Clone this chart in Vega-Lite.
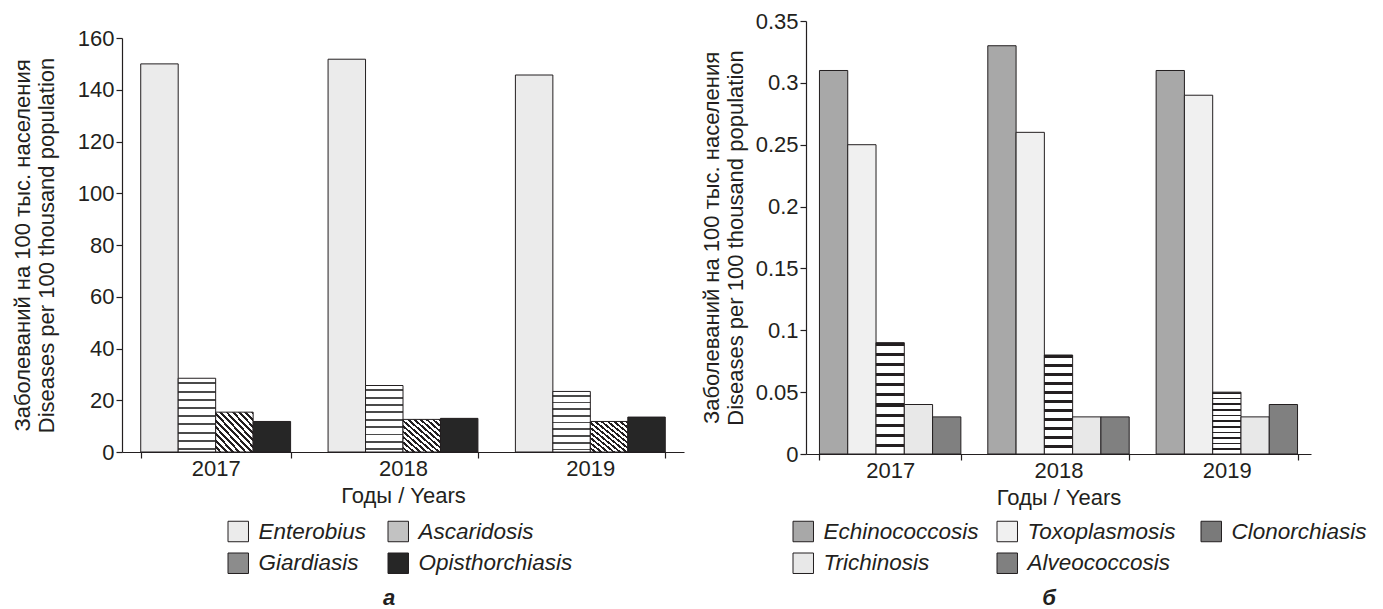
{
  "$schema": "https://vega.github.io/schema/vega-lite/v6.json",
  "background": "white",
  "padding": {"left": 11, "top": 10, "right": 4, "bottom": 0},
  "spacing": 16,
  "config": {
    "font": "Liberation Sans",
    "view": {"stroke": null},
    "axis": {
      "grid": false,
      "domainColor": "#231f20",
      "tickColor": "#231f20",
      "labelColor": "#231f20",
      "titleColor": "#231f20",
      "labelFontSize": 22,
      "titleFontSize": 22,
      "titleFontWeight": "normal",
      "tickSize": 6,
      "domainWidth": 1.2,
      "tickWidth": 1.2
    },
    "legend": {
      "labelFontSize": 22.5,
      "labelFontStyle": "italic",
      "labelColor": "#231f20",
      "titleColor": "#231f20",
      "symbolType": "square",
      "symbolSize": 420,
      "symbolStrokeColor": "#231f20",
      "symbolStrokeWidth": 1,
      "labelOffset": 9,
      "rowPadding": 7,
      "titleOrient": "bottom",
      "titleAnchor": "middle",
      "titleFontSize": 22,
      "titleFontStyle": "italic",
      "titleFontWeight": "bold",
      "titlePadding": 13
    }
  },
  "hconcat": [
    {
      "spacing": 0,
      "vconcat": [
        {
          "width": 562,
          "height": 2,
          "data": {"values": [{"k": 1}]},
          "mark": {"type": "text"},
          "encoding": {"text": {"value": ""}},
          "view": {"fill": "white", "stroke": null}
        },
        {
          "width": 562,
          "height": 414,
          "data": {"values": [
            {"year": "2017", "disease": "Enterobius", "value": 150.0},
            {"year": "2017", "disease": "Ascaridosis", "value": 28.5},
            {"year": "2017", "disease": "Giardiasis", "value": 15.4},
            {"year": "2017", "disease": "Opisthorchiasis", "value": 11.8},
            {"year": "2018", "disease": "Enterobius", "value": 151.8},
            {"year": "2018", "disease": "Ascaridosis", "value": 25.7},
            {"year": "2018", "disease": "Giardiasis", "value": 12.6},
            {"year": "2018", "disease": "Opisthorchiasis", "value": 13.0},
            {"year": "2019", "disease": "Enterobius", "value": 145.7},
            {"year": "2019", "disease": "Ascaridosis", "value": 23.4},
            {"year": "2019", "disease": "Giardiasis", "value": 11.8},
            {"year": "2019", "disease": "Opisthorchiasis", "value": 13.5}
          ]},
          "mark": {"type": "bar", "stroke": "#231f20", "strokeWidth": 1},
          "encoding": {
            "x": {"field": "year", "type": "nominal",
              "scale": {"paddingInner": 0.2, "paddingOuter": 0.1},
              "axis": {"title": "Годы / Years", "labelAngle": 0, "tickBand": "extent", "labelPadding": 0, "titlePadding": 6}},
            "xOffset": {"field": "disease", "type": "nominal", "sort": ["Enterobius", "Ascaridosis", "Giardiasis", "Opisthorchiasis"],
              "scale": {"paddingInner": 0, "paddingOuter": 0}},
            "y": {"field": "value", "type": "quantitative",
              "scale": {"domain": [0, 160]},
              "axis": {"values": [0, 20, 40, 60, 80, 100, 120, 140, 160],
                "title": ["Заболеваний на 100 тыс. населения", "Diseases per 100 thousand population"], "titlePadding": 19}},
            "fill": {"field": "disease", "type": "nominal",
              "condition": [
                {"test": "datum.disease === 'Ascaridosis'", "value": {"gradient": "linear", "x1": 0, "y1": 0, "x2": 0, "y2": 1, "stops": [
                    {"offset": 0, "color": "#ffffff"},
                    {"offset": 0.0556, "color": "#ffffff"}, {"offset": 0.0556, "color": "#4a4a4a"}, {"offset": 0.0844, "color": "#4a4a4a"}, {"offset": 0.0844, "color": "#ffffff"},
                    {"offset": 0.1667, "color": "#ffffff"}, {"offset": 0.1667, "color": "#4a4a4a"}, {"offset": 0.1956, "color": "#4a4a4a"}, {"offset": 0.1956, "color": "#ffffff"},
                    {"offset": 0.2778, "color": "#ffffff"}, {"offset": 0.2778, "color": "#4a4a4a"}, {"offset": 0.3067, "color": "#4a4a4a"}, {"offset": 0.3067, "color": "#ffffff"},
                    {"offset": 0.3889, "color": "#ffffff"}, {"offset": 0.3889, "color": "#4a4a4a"}, {"offset": 0.4178, "color": "#4a4a4a"}, {"offset": 0.4178, "color": "#ffffff"},
                    {"offset": 0.5, "color": "#ffffff"}, {"offset": 0.5, "color": "#4a4a4a"}, {"offset": 0.5289, "color": "#4a4a4a"}, {"offset": 0.5289, "color": "#ffffff"},
                    {"offset": 0.6111, "color": "#ffffff"}, {"offset": 0.6111, "color": "#4a4a4a"}, {"offset": 0.64, "color": "#4a4a4a"}, {"offset": 0.64, "color": "#ffffff"},
                    {"offset": 0.7222, "color": "#ffffff"}, {"offset": 0.7222, "color": "#4a4a4a"}, {"offset": 0.7511, "color": "#4a4a4a"}, {"offset": 0.7511, "color": "#ffffff"},
                    {"offset": 0.8333, "color": "#ffffff"}, {"offset": 0.8333, "color": "#4a4a4a"}, {"offset": 0.8622, "color": "#4a4a4a"}, {"offset": 0.8622, "color": "#ffffff"},
                    {"offset": 0.9444, "color": "#ffffff"}, {"offset": 0.9444, "color": "#4a4a4a"}, {"offset": 0.9733, "color": "#4a4a4a"}, {"offset": 0.9733, "color": "#ffffff"},
                    {"offset": 1, "color": "#ffffff"}
                  ]}},
                {"test": "datum.disease === 'Giardiasis'", "value": {"gradient": "linear", "x1": 0, "y1": 1, "x2": 1, "y2": 0, "stops": [
                    {"offset": 0, "color": "#ffffff"},
                    {"offset": 0.0458, "color": "#ffffff"}, {"offset": 0.0458, "color": "#231f20"}, {"offset": 0.0833, "color": "#231f20"}, {"offset": 0.0833, "color": "#ffffff"},
                    {"offset": 0.1292, "color": "#ffffff"}, {"offset": 0.1292, "color": "#231f20"}, {"offset": 0.1667, "color": "#231f20"}, {"offset": 0.1667, "color": "#ffffff"},
                    {"offset": 0.2125, "color": "#ffffff"}, {"offset": 0.2125, "color": "#231f20"}, {"offset": 0.25, "color": "#231f20"}, {"offset": 0.25, "color": "#ffffff"},
                    {"offset": 0.2958, "color": "#ffffff"}, {"offset": 0.2958, "color": "#231f20"}, {"offset": 0.3333, "color": "#231f20"}, {"offset": 0.3333, "color": "#ffffff"},
                    {"offset": 0.3792, "color": "#ffffff"}, {"offset": 0.3792, "color": "#231f20"}, {"offset": 0.4167, "color": "#231f20"}, {"offset": 0.4167, "color": "#ffffff"},
                    {"offset": 0.4625, "color": "#ffffff"}, {"offset": 0.4625, "color": "#231f20"}, {"offset": 0.5, "color": "#231f20"}, {"offset": 0.5, "color": "#ffffff"},
                    {"offset": 0.5458, "color": "#ffffff"}, {"offset": 0.5458, "color": "#231f20"}, {"offset": 0.5833, "color": "#231f20"}, {"offset": 0.5833, "color": "#ffffff"},
                    {"offset": 0.6292, "color": "#ffffff"}, {"offset": 0.6292, "color": "#231f20"}, {"offset": 0.6667, "color": "#231f20"}, {"offset": 0.6667, "color": "#ffffff"},
                    {"offset": 0.7125, "color": "#ffffff"}, {"offset": 0.7125, "color": "#231f20"}, {"offset": 0.75, "color": "#231f20"}, {"offset": 0.75, "color": "#ffffff"},
                    {"offset": 0.7958, "color": "#ffffff"}, {"offset": 0.7958, "color": "#231f20"}, {"offset": 0.8333, "color": "#231f20"}, {"offset": 0.8333, "color": "#ffffff"},
                    {"offset": 0.8792, "color": "#ffffff"}, {"offset": 0.8792, "color": "#231f20"}, {"offset": 0.9167, "color": "#231f20"}, {"offset": 0.9167, "color": "#ffffff"},
                    {"offset": 0.9625, "color": "#ffffff"}, {"offset": 0.9625, "color": "#231f20"}, {"offset": 1, "color": "#231f20"}
                  ]}}
              ],
              "scale": {"domain": ["Enterobius", "Ascaridosis", "Giardiasis", "Opisthorchiasis"],
                "range": ["#ebebeb", "#c2c2c2", "#8c8c8c", "#262626"]},
              "legend": {"title": "а", "orient": "none", "legendX": 105, "legendY": 499, "direction": "horizontal", "columns": 2, "gridAlign": "each", "columnPadding": 19,
                "encode": {"title": {"update": {"dx": {"value": -11}}}}}}
          }
        }
      ]
    },
    {
      "width": 505,
      "height": 433,
      "data": {"values": [
        {"year": "2017", "disease": "Echinococcosis", "value": 0.31},
        {"year": "2017", "disease": "Toxoplasmosis", "value": 0.25},
        {"year": "2017", "disease": "Clonorchiasis", "value": 0.09},
        {"year": "2017", "disease": "Trichinosis", "value": 0.04},
        {"year": "2017", "disease": "Alveococcosis", "value": 0.03},
        {"year": "2018", "disease": "Echinococcosis", "value": 0.33},
        {"year": "2018", "disease": "Toxoplasmosis", "value": 0.26},
        {"year": "2018", "disease": "Clonorchiasis", "value": 0.08},
        {"year": "2018", "disease": "Trichinosis", "value": 0.03},
        {"year": "2018", "disease": "Alveococcosis", "value": 0.03},
        {"year": "2019", "disease": "Echinococcosis", "value": 0.31},
        {"year": "2019", "disease": "Toxoplasmosis", "value": 0.29},
        {"year": "2019", "disease": "Clonorchiasis", "value": 0.05},
        {"year": "2019", "disease": "Trichinosis", "value": 0.03},
        {"year": "2019", "disease": "Alveococcosis", "value": 0.04}
      ]},
      "mark": {"type": "bar", "stroke": "#231f20", "strokeWidth": 1},
      "encoding": {
        "x": {"field": "year", "type": "nominal",
          "scale": {"paddingInner": 0.16, "paddingOuter": 0.08},
          "axis": {"title": "Годы / Years", "labelAngle": 0, "tickBand": "extent", "labelPadding": 0, "titlePadding": 6}},
        "xOffset": {"field": "disease", "type": "nominal", "sort": ["Echinococcosis", "Toxoplasmosis", "Clonorchiasis", "Trichinosis", "Alveococcosis"],
          "scale": {"paddingInner": 0, "paddingOuter": 0}},
        "y": {"field": "value", "type": "quantitative",
          "scale": {"domain": [0, 0.35]},
          "axis": {"values": [0, 0.05, 0.1, 0.15, 0.2, 0.25, 0.3, 0.35], "format": "~g",
            "title": ["Заболеваний на 100 тыс. населения", "Diseases per 100 thousand population"], "titlePadding": 8}},
        "fill": {"field": "disease", "type": "nominal",
          "condition": [
            {"test": "datum.disease === 'Clonorchiasis'", "value": {"gradient": "linear", "x1": 0, "y1": 0, "x2": 0, "y2": 1, "stops": [
                {"offset": 0, "color": "#231f20"}, {"offset": 0.028, "color": "#231f20"}, {"offset": 0.028, "color": "#ffffff"},
                {"offset": 0.0909, "color": "#ffffff"}, {"offset": 0.0909, "color": "#231f20"}, {"offset": 0.1189, "color": "#231f20"}, {"offset": 0.1189, "color": "#ffffff"},
                {"offset": 0.1818, "color": "#ffffff"}, {"offset": 0.1818, "color": "#231f20"}, {"offset": 0.2098, "color": "#231f20"}, {"offset": 0.2098, "color": "#ffffff"},
                {"offset": 0.2727, "color": "#ffffff"}, {"offset": 0.2727, "color": "#231f20"}, {"offset": 0.3007, "color": "#231f20"}, {"offset": 0.3007, "color": "#ffffff"},
                {"offset": 0.3636, "color": "#ffffff"}, {"offset": 0.3636, "color": "#231f20"}, {"offset": 0.3916, "color": "#231f20"}, {"offset": 0.3916, "color": "#ffffff"},
                {"offset": 0.4545, "color": "#ffffff"}, {"offset": 0.4545, "color": "#231f20"}, {"offset": 0.4825, "color": "#231f20"}, {"offset": 0.4825, "color": "#ffffff"},
                {"offset": 0.5455, "color": "#ffffff"}, {"offset": 0.5455, "color": "#231f20"}, {"offset": 0.5735, "color": "#231f20"}, {"offset": 0.5735, "color": "#ffffff"},
                {"offset": 0.6364, "color": "#ffffff"}, {"offset": 0.6364, "color": "#231f20"}, {"offset": 0.6644, "color": "#231f20"}, {"offset": 0.6644, "color": "#ffffff"},
                {"offset": 0.7273, "color": "#ffffff"}, {"offset": 0.7273, "color": "#231f20"}, {"offset": 0.7553, "color": "#231f20"}, {"offset": 0.7553, "color": "#ffffff"},
                {"offset": 0.8182, "color": "#ffffff"}, {"offset": 0.8182, "color": "#231f20"}, {"offset": 0.8462, "color": "#231f20"}, {"offset": 0.8462, "color": "#ffffff"},
                {"offset": 0.9091, "color": "#ffffff"}, {"offset": 0.9091, "color": "#231f20"}, {"offset": 0.9371, "color": "#231f20"}, {"offset": 0.9371, "color": "#ffffff"},
                {"offset": 1, "color": "#ffffff"}
              ]}}
          ],
          "scale": {"domain": ["Echinococcosis", "Toxoplasmosis", "Clonorchiasis", "Trichinosis", "Alveococcosis"],
            "range": ["#a8a8a8", "#f0f0f0", "#7a7a7a", "#e8e8e8", "#808080"]},
          "legend": {"title": "б", "orient": "none", "legendX": -14, "legendY": 499, "direction": "horizontal", "columns": 3, "gridAlign": "all", "columnPadding": 16,
            "encode": {"title": {"update": {"dx": {"value": -30}}}}}}
      }
    }
  ],
  "resolve": {"scale": {"fill": "independent", "x": "independent", "y": "independent", "xOffset": "independent"}}
}
